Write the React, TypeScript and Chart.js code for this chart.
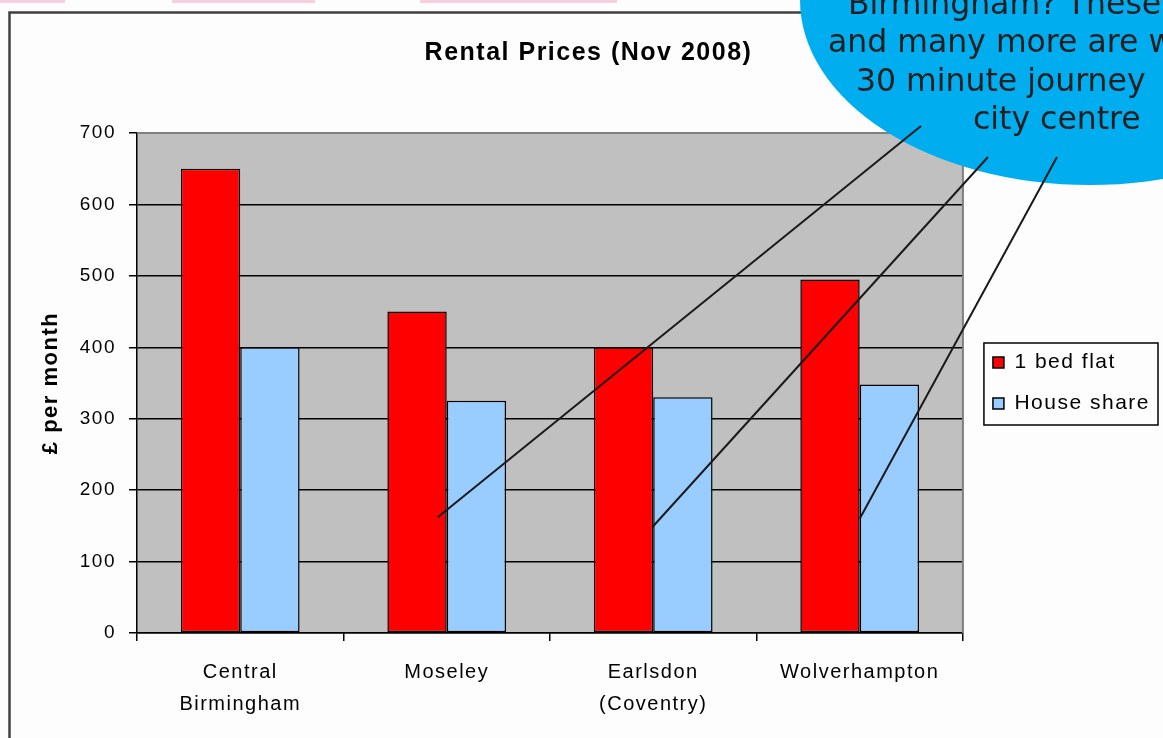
import React, { useEffect, useRef } from "react";
import { Chart, registerables } from "chart.js";

Chart.register(...registerables);

const categories: string[][] = [["Central", "Birmingham"], ["Moseley"], ["Earlsdon", "(Coventry)"], ["Wolverhampton"]];
const seriesNames = ["1 bed flat", "House share"];
const oneBedFlat = [650, 450, 400, 495];
const houseShare = [400, 325, 330, 348];
const yMin = 0;
const yMax = 700;
const yStep = 100;
const chartTitle = "Rental Prices (Nov 2008)";
const yAxisTitle = "£ per month";

// speech-bubble annotation
const calloutLines = ["Birmingham? These", "and many more are w", "30 minute journey", "city centre"];
const calloutTargetIndex = [1, 2, 3];
const calloutTargetValue = [162, 148, 160];
const calloutTargetInset = [9, 1, 0];

const FONT = "'Liberation Sans', Arial, sans-serif";

const decorPlugin = {
  id: "decor",
  beforeUpdate(chart: any) {
    chart.ctx.letterSpacing = "1.5px";
  },
  beforeDraw(chart: any) {
    const { ctx, width, height, chartArea: ca } = chart;
    ctx.save();
    ctx.fillStyle = "#FDFDFD";
    ctx.fillRect(0, 0, width, height);
    ctx.fillStyle = "#F7CFDF";
    [[0, 65], [172, 315], [420, 617]].forEach(([a, b]) => ctx.fillRect(a, 0, b - a, 3));
    ctx.strokeStyle = "#404040";
    ctx.lineWidth = 2.5;
    ctx.strokeRect(9.5, 12.5, 3000, 3000);
    ctx.fillStyle = "#C0C0C0";
    ctx.fillRect(ca.left, ca.top, ca.right - ca.left, ca.bottom - ca.top);
    ctx.restore();
  },
  beforeDatasetsDraw(chart: any) {
    const { ctx, chartArea: ca } = chart;
    ctx.save();
    ctx.strokeStyle = "#808080";
    ctx.lineWidth = 2;
    ctx.beginPath();
    ctx.moveTo(ca.left, ca.top);
    ctx.lineTo(ca.right, ca.top);
    ctx.lineTo(ca.right, ca.bottom);
    ctx.stroke();
    ctx.restore();
  },
  afterDraw(chart: any) {
    const { ctx } = chart;
    // legend frame
    const lg = chart.legend;
    if (lg && lg.legendHitBoxes && lg.legendHitBoxes.length) {
      const hb = lg.legendHitBoxes;
      const left = hb[0].left - 9;
      const top = hb[0].top - 9;
      let right = 0;
      hb.forEach((h: any) => (right = Math.max(right, h.left + h.width)));
      const last = hb[hb.length - 1];
      const bottom = last.top + 32;
      ctx.save();
      ctx.strokeStyle = "#000";
      ctx.lineWidth = 1.5;
      ctx.strokeRect(left, top, right + 8 - left, bottom - top);
      ctx.restore();
    }
    // bubble
    ctx.save();
    ctx.fillStyle = "#00AEEF";
    ctx.beginPath();
    ctx.ellipse(1090, 0, 290, 185, 0, 0, Math.PI * 2);
    ctx.fill();
    // pointer lines
    const starts = [[921, 126], [988, 157], [1057, 157]];
    const meta = chart.getDatasetMeta(0);
    const ys = chart.scales.y;
    ctx.strokeStyle = "#1a1a1a";
    ctx.lineWidth = 2;
    calloutTargetIndex.forEach((idx, i) => {
      const bar = meta.data[idx];
      const ex = bar.x + bar.width / 2 - calloutTargetInset[i];
      const ey = ys.getPixelForValue(calloutTargetValue[i]);
      ctx.beginPath();
      ctx.moveTo(starts[i][0], starts[i][1]);
      ctx.lineTo(ex, ey);
      ctx.stroke();
    });
    // bubble text
    ctx.letterSpacing = "0px";
    ctx.fillStyle = "#231F20";
    ctx.font = "31.5px 'DejaVu Sans', Verdana, sans-serif";
    ctx.textAlign = "left";
    ctx.textBaseline = "alphabetic";
    const pos = [[848, 14], [828, 52], [856, 91], [973, 128.5]];
    calloutLines.forEach((t, i) => ctx.fillText(t, pos[i][0], pos[i][1]));
    ctx.restore();
  },
};

export default function App() {
  const ref = useRef<HTMLCanvasElement>(null);
  useEffect(() => {
    if (!ref.current) return;
    Chart.defaults.font.family = FONT;
    Chart.defaults.color = "#000";
    const chart = new Chart(ref.current, {
      type: "bar",
      data: {
        labels: categories,
        datasets: [
          {
            label: seriesNames[0],
            data: oneBedFlat,
            backgroundColor: "#FF0000",
            borderColor: "#000",
            borderWidth: 1.5,
            borderSkipped: false,
            categoryPercentage: 0.575,
            barPercentage: 1,
          },
          {
            label: seriesNames[1],
            data: houseShare,
            backgroundColor: "#99CCFF",
            borderColor: "#000",
            borderWidth: 1.5,
            borderSkipped: false,
            categoryPercentage: 0.575,
            barPercentage: 1,
          },
        ],
      },
      options: {
        responsive: false,
        animation: false,
        devicePixelRatio: 1,
        layout: { padding: { left: 17, right: 3, top: 15, bottom: 0 } },
        plugins: {
          tooltip: { enabled: false },
          title: {
            display: true,
            text: chartTitle,
            color: "#000",
            font: { size: 25, weight: "bold", family: FONT, lineHeight: 1.2 },
            padding: { top: 23, bottom: 65 },
          },
          legend: {
            position: "right",
            align: "center",
            fullSize: false,
            labels: {
              boxWidth: 11,
              boxHeight: 11,
              padding: 20,
              color: "#000",
              font: { size: 21, family: FONT, lineHeight: 1 },
            },
          },
        },
        scales: {
          x: {
            offset: true,
            grid: {
              display: true,
              offset: true,
              drawOnChartArea: false,
              drawTicks: true,
              tickLength: 8,
              color: "#000",
              lineWidth: 1.5,
            },
            border: { display: true, color: "#000", width: 1.5 },
            ticks: {
              color: "#000",
              padding: 15,
              maxRotation: 0,
              autoSkip: false,
              font: { size: 20, family: FONT, lineHeight: "32px" },
            },
            afterFit(s: any) {
              s.height = 105;
            },
          },
          y: {
            min: yMin,
            max: yMax,
            ticks: {
              stepSize: yStep,
              color: "#000",
              padding: 13,
              font: { size: 19, family: FONT },
            },
            grid: {
              color: (c: any) => (c.tick && c.tick.value === yMax ? "#808080" : "#000"),
              lineWidth: 1.5,
              drawTicks: true,
              tickLength: 8,
              tickColor: "#000",
              tickWidth: 1.5,
            },
            border: { display: true, color: "#000", width: 1.5 },
            title: {
              display: true,
              text: yAxisTitle,
              color: "#000",
              font: { size: 22, weight: "bold", family: FONT, lineHeight: 1.2 },
              padding: { top: 21, bottom: 4 },
            },
            afterFit(s: any) {
              s.width = 120;
            },
          },
          yR: {
            type: "linear",
            position: "right",
            display: true,
            grid: { display: false, drawTicks: false },
            border: { display: false },
            ticks: { display: false },
            afterFit(s: any) {
              s.width = 10;
            },
          },
        },
      } as any,
      plugins: [decorPlugin],
    });
    return () => chart.destroy();
  }, []);
  return (
    <div
      style={{
        position: "fixed",
        left: 0,
        top: 0,
        width: 1163,
        height: 738,
        overflow: "hidden",
        background: "#fff",
      }}
    >
      <canvas ref={ref} width={1163} height={738} style={{ display: "block", width: 1163, height: 738 }} />
    </div>
  );
}
